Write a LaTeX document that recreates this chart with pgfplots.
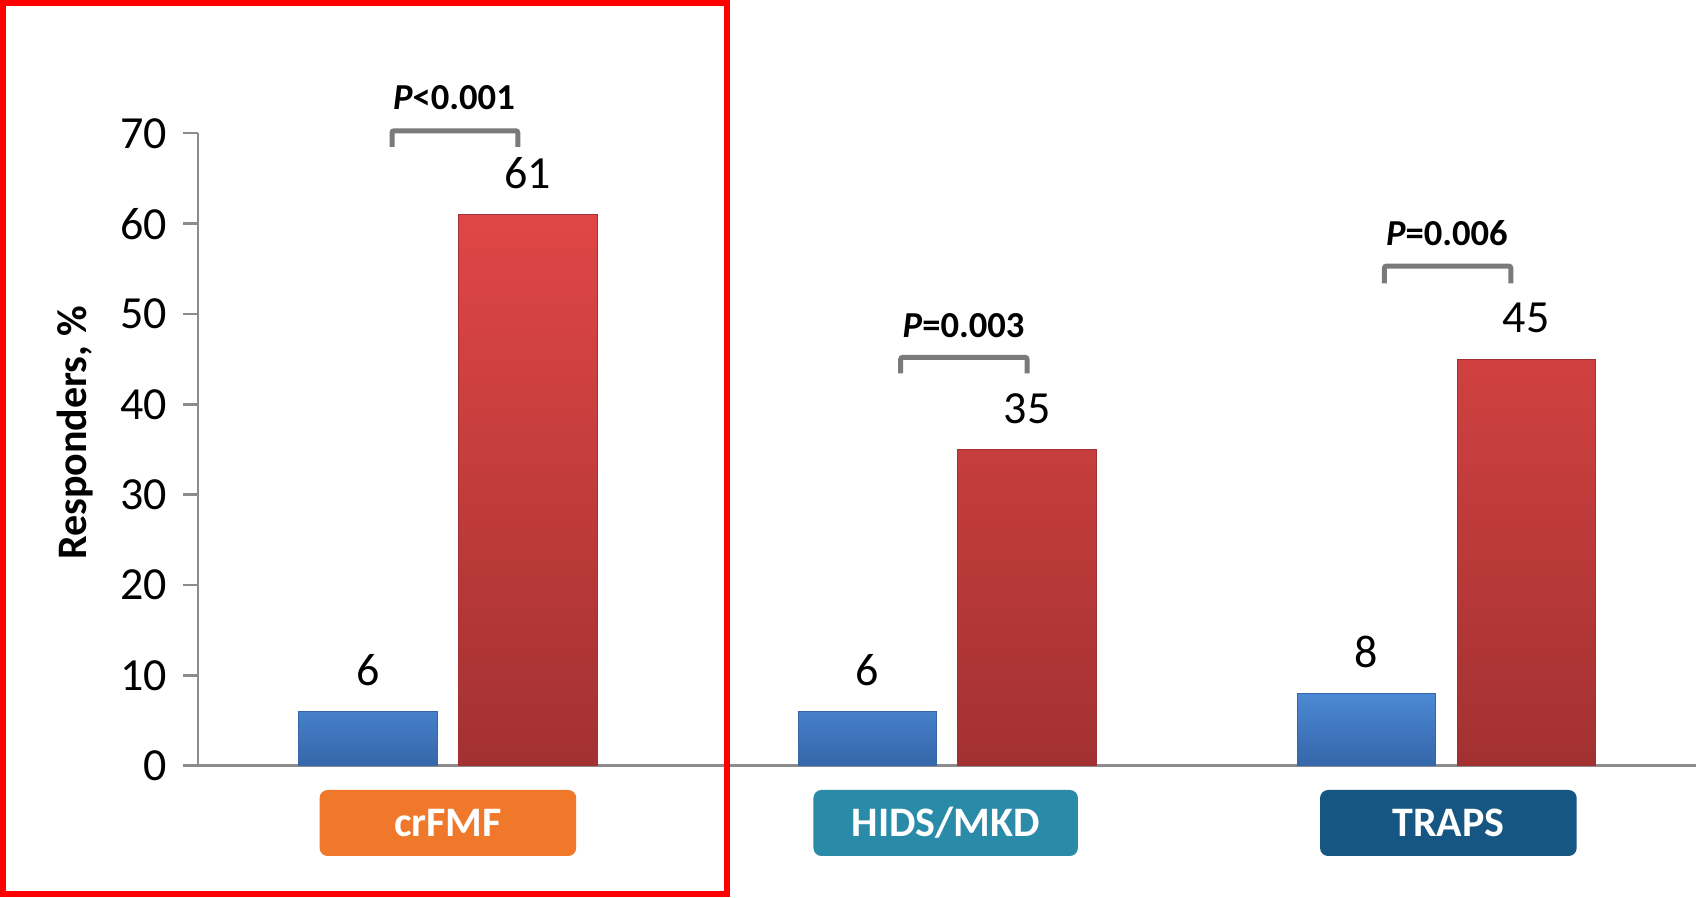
\documentclass[border=0pt]{standalone}
\usepackage{pgfplots}
\pgfplotsset{compat=1.18}
\usepackage{fontspec}
\setmainfont{Carlito}

\definecolor{barblueTop}{HTML}{4C89D4}
\definecolor{barblueBot}{HTML}{3566AA}
\definecolor{barredTop}{HTML}{E04646}
\definecolor{barredBot}{HTML}{A33131}
\definecolor{axisgray}{HTML}{8C8C8C}
\definecolor{brackgray}{HTML}{7A7A7A}
\definecolor{catorange}{HTML}{F0782A}
\definecolor{catteal}{HTML}{2A8BA8}
\definecolor{catnavy}{HTML}{165682}

\begin{document}
\begin{tikzpicture}
\path[use as bounding box, fill=white] (-99.15pt,-66.15pt) rectangle (748.85pt,382.85pt);
\begin{axis}[
  scale only axis, width=748.85pt, height=316.2pt,
  xmin=-0.5, xmax=2.5, ymin=0, ymax=70,
  axis lines*=left,
  axis line style={axisgray, line width=1.2pt},
  xtick=\empty,
  ytick={0,10,...,70},
  tick align=outside,
  major tick length=7.5pt,
  ytick style={axisgray, line width=1.2pt},
  yticklabel style={font=\fontsize{23}{27}\selectfont, anchor=east, inner sep=0pt, xshift=-7.8pt},
  /pgf/number format/assume math mode=true,
  clip=false,
  ybar, bar width=0.277, bar shift=0pt,
  nodes near coords,
  every node near coord/.append style={font=\fontsize{23}{27}\selectfont, text=black, anchor=center, yshift=20.5pt},
]
% placebo arm
\addplot[draw=barblueBot, top color=barblueTop, bottom color=barblueBot]
  coordinates {(-0.16,6) (0.84,6) (1.84,8)};
% canakinumab arm
\addplot[draw=barredBot, top color=barredTop, bottom color=barredBot]
  coordinates {(0.16,61) (1.16,35) (2.16,45)};

% significance brackets
\draw[brackgray, line width=2.5pt, rounded corners=1pt]
  (axis cs:-0.112,68.49) -- (axis cs:-0.112,70.28) -- (axis cs:0.140,70.28) -- (axis cs:0.140,68.49);
\draw[brackgray, line width=2.5pt, rounded corners=1pt]
  (axis cs:0.907,43.43) -- (axis cs:0.907,45.2) -- (axis cs:1.160,45.2) -- (axis cs:1.160,43.43);
\draw[brackgray, line width=2.5pt, rounded corners=1pt]
  (axis cs:1.876,53.4) -- (axis cs:1.876,55.3) -- (axis cs:2.129,55.3) -- (axis cs:2.129,53.4);
\node[font=\bfseries\fontsize{18.3}{22}\selectfont] at (axis cs:0.012,73.9) {\textit{P}<0.001};
\node[font=\bfseries\fontsize{18.3}{22}\selectfont] at (axis cs:1.033,48.69) {\textit{P}=0.003};
\node[font=\bfseries\fontsize{18.3}{22}\selectfont] at (axis cs:2.001,58.93) {\textit{P}=0.006};

% category boxes
\node[fill=catorange, rounded corners=4pt, minimum width=128.3pt, minimum height=33pt,
  text=white, font=\bfseries\fontsize{21}{25}\selectfont] at ([yshift=-28.65pt]axis cs:0,0) {crFMF};
\node[fill=catteal, rounded corners=4pt, minimum width=132.2pt, minimum height=33pt,
  text=white, font=\bfseries\fontsize{21}{25}\selectfont] at ([yshift=-28.65pt]axis cs:0.997,0) {HIDS/MKD};
\node[fill=catnavy, rounded corners=4pt, minimum width=128.3pt, minimum height=33pt,
  text=white, font=\bfseries\fontsize{21}{25}\selectfont] at ([yshift=-28.65pt]axis cs:2.004,0) {TRAPS};
\end{axis}
\node[rotate=90, font=\bfseries\fontsize{21}{25}\selectfont] at (-61.8pt,166.5pt) {Responders, \%};
\draw[red, line width=3pt] (-97.65pt,-64.15pt) rectangle (264.35pt,381.35pt);
\end{tikzpicture}
\end{document}
